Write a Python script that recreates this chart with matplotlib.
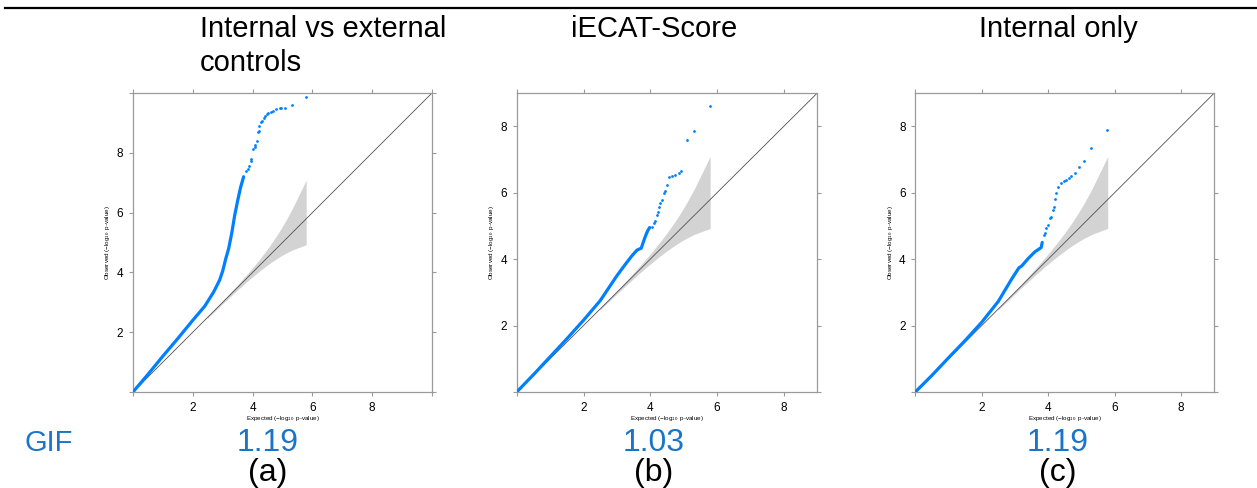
import numpy as np
import matplotlib
matplotlib.use("Agg")
import matplotlib.pyplot as plt
from matplotlib.ticker import FixedLocator, FixedFormatter

plt.rcParams["font.family"] = ["Liberation Sans", "DejaVu Sans"]
plt.rcParams["mathtext.fontset"] = "custom"
plt.rcParams["mathtext.rm"] = "Liberation Sans"
plt.rcParams["mathtext.it"] = "Liberation Sans:italic"

# ---------------------------------------------------------------- data
n_snps = 310000          # number of tested variants (sets the expected range)

titles = [["Internal vs external", "controls"], ["iECAT-Score"], ["Internal only"]]
gif_values = ["1.19", "1.03", "1.19"]
panel_tags = ["(a)", "(b)", "(c)"]
axis_max = [10.0, 9.0, 9.0]

# dense part of each QQ curve (expected, observed)
a_line_x = [0.0, 0.5, 1.0, 1.5, 2.0, 2.4, 2.7, 2.9, 3.0, 3.1, 3.2, 3.3, 3.4, 3.5, 3.6, 3.7]
a_line_y = [0.0, 0.59, 1.2, 1.79, 2.4, 2.87, 3.35, 3.75, 4.05, 4.45, 4.8, 5.3, 5.9, 6.4, 6.85, 7.2]
b_line_x = [0.0, 0.5, 1.0, 1.5, 2.0, 2.5, 3.0, 3.25, 3.45, 3.6, 3.73, 3.78, 3.85, 3.92, 3.98]
b_line_y = [0.0, 0.52, 1.06, 1.6, 2.16, 2.75, 3.5, 3.84, 4.1, 4.27, 4.33, 4.48, 4.68, 4.85, 4.95]
c_line_x = [0.0, 0.5, 1.0, 1.5, 2.0, 2.5, 2.9, 3.12, 3.2, 3.4, 3.6, 3.72, 3.79, 3.82]
c_line_y = [0.0, 0.5, 1.03, 1.55, 2.1, 2.73, 3.4, 3.74, 3.79, 4.02, 4.22, 4.3, 4.35, 4.5]

# sparse top hits (expected, observed)
a_top_x = [3.79, 3.84, 3.88, 3.93, 3.96, 4.03, 4.07, 4.09, 4.14, 4.18, 4.2, 4.23, 4.29,
           4.31, 4.38, 4.42, 4.48, 4.53, 4.62, 4.68, 4.79, 4.9, 4.96, 5.09, 5.31, 5.77]
a_top_y = [7.39, 7.45, 7.56, 7.73, 7.79, 8.12, 8.18, 8.26, 8.4, 8.68, 8.74, 8.9, 9.02,
           9.07, 9.18, 9.24, 9.3, 9.33, 9.37, 9.41, 9.48, 9.5, 9.5, 9.5, 9.6, 9.85]
b_top_x = [4.05, 4.1, 4.13, 4.2, 4.22, 4.27, 4.3, 4.35, 4.4, 4.45, 4.5, 4.57, 4.65,
           4.75, 4.85, 4.93, 5.1, 5.3, 5.8]
b_top_y = [4.98, 5.08, 5.16, 5.33, 5.43, 5.58, 5.7, 5.78, 6.0, 6.06, 6.23, 6.46, 6.49,
           6.54, 6.58, 6.65, 7.59, 7.86, 8.61]
c_top_x = [3.86, 3.89, 3.94, 4.0, 4.05, 4.07, 4.14, 4.17, 4.2, 4.25, 4.3, 4.4, 4.48,
           4.55, 4.62, 4.7, 4.8, 4.92, 5.08, 5.3, 5.78]
c_top_y = [4.73, 4.8, 4.93, 5.03, 5.23, 5.28, 5.48, 5.58, 5.8, 6.0, 6.16, 6.29, 6.36,
           6.37, 6.44, 6.51, 6.59, 6.77, 6.94, 7.34, 7.89]

lines = [(a_line_x, a_line_y), (b_line_x, b_line_y), (c_line_x, c_line_y)]
tops = [(a_top_x, a_top_y), (b_top_x, b_top_y), (c_top_x, c_top_y)]


def beta_band(n, n_points=1000, alpha=0.05):
    """Pointwise CI of uniform order statistics, Beta(i, n-i) ~ Gamma(i)/n."""
    i = np.arange(1, n_points + 1)
    expected = -np.log10((i - 0.5) / n)
    k = np.arange(n_points)
    logfact = np.concatenate([[0.0], np.cumsum(np.log(np.arange(1, n_points)))])
    mask = k[None, :] < i[:, None]

    def cdf(x):
        lt = k[None, :] * np.log(x)[:, None] - x[:, None] - logfact[None, :]
        return 1.0 - np.where(mask, np.exp(lt), 0.0).sum(1)

    def quant(p):
        lo = np.full(n_points, 1e-9)
        hi = i + 12 * np.sqrt(i) + 30.0
        for _ in range(70):
            mid = 0.5 * (lo + hi)
            below = cdf(mid) < p
            lo = np.where(below, mid, lo)
            hi = np.where(below, hi, mid)
        return 0.5 * (lo + hi)

    upper = -np.log10(quant(alpha / 2) / n)
    lower = -np.log10(quant(1 - alpha / 2) / n)
    return expected, upper, lower


band_x, band_hi, band_lo = beta_band(n_snps)

# ---------------------------------------------------------------- figure
W, H = 1257, 488
fig = plt.figure(figsize=(W / 100, H / 100), dpi=100)

# panel boxes in pixels: left, right, top, bottom
boxes = [(133, 432, 93, 392), (516.7, 817.3, 93, 392), (915.3, 1214.3, 93, 392)]
centers = [268, 654, 1058]

point_col = "#0080ff"
frame_col = "#9a9a9a"

for k, (l, r, t, b) in enumerate(boxes):
    ax = fig.add_axes([l / W, 1 - b / H, (r - l) / W, (b - t) / H])
    m = axis_max[k]
    ax.set_xlim(0, m)
    ax.set_ylim(0, m)

    ax.fill_between(band_x, band_lo, band_hi, color="#d3d3d3", lw=0, zorder=1)
    ax.plot([0, m], [0, m], color="#505050", lw=0.6, zorder=2)

    lx, ly = lines[k]
    ax.plot(lx, ly, color=point_col, lw=2.3, solid_capstyle="round",
            solid_joinstyle="round", zorder=3)
    tx, ty = tops[k]
    ax.plot(tx, ty, "o", color=point_col, ms=2.0, mew=0, zorder=3)

    ticks = [0, 2, 4, 6, 8] + ([10] if m >= 10 else [])
    labels = ["" if v in (0, 10) else str(v) for v in ticks]
    for axis in (ax.xaxis, ax.yaxis):
        axis.set_major_locator(FixedLocator(ticks))
        axis.set_major_formatter(FixedFormatter(labels))
    ax.tick_params(direction="out", length=3, width=0.8, color=frame_col,
                   top=True, right=True, labelsize=8.5, pad=4)
    for s in ax.spines.values():
        s.set_color(frame_col)
        s.set_linewidth(0.9)

    ax.set_xlabel(r"Expected ($-\log_{10}$ p-value)", fontsize=4.5, labelpad=0.5)
    ax.set_ylabel(r"Observed ($-\log_{10}$ p-value)", fontsize=4.5, labelpad=3)

# headline rule
fig.add_artist(plt.Line2D([5 / W, 1.0], [1 - 8 / H, 1 - 8 / H], color="black", lw=1.6))

# panel titles, one text per line
title_size = 21
fig.text(200 / W, 1 - 37 / H, titles[0][0], fontsize=title_size, ha="left", va="baseline")
fig.text(200 / W, 1 - 71 / H, titles[0][1], fontsize=title_size, ha="left", va="baseline")
fig.text(centers[1] / W, 1 - 37 / H, titles[1][0], fontsize=title_size, ha="center",
         va="baseline")
fig.text(centers[2] / W, 1 - 37 / H, titles[2][0], fontsize=title_size, ha="center",
         va="baseline")

# genomic inflation factors and panel tags
gif_col = "#1a75c9"
fig.text(25 / W, 1 - 451 / H, "GIF", fontsize=21, color=gif_col, ha="left", va="baseline")
for k in range(3):
    fig.text(centers[k] / W, 1 - 451 / H, gif_values[k], fontsize=23, color=gif_col,
             ha="center", va="baseline")
    fig.text(centers[k] / W, 1 - 481 / H, panel_tags[k], fontsize=23, color="black",
             ha="center", va="baseline")

fig.savefig("out.png", dpi=100)
